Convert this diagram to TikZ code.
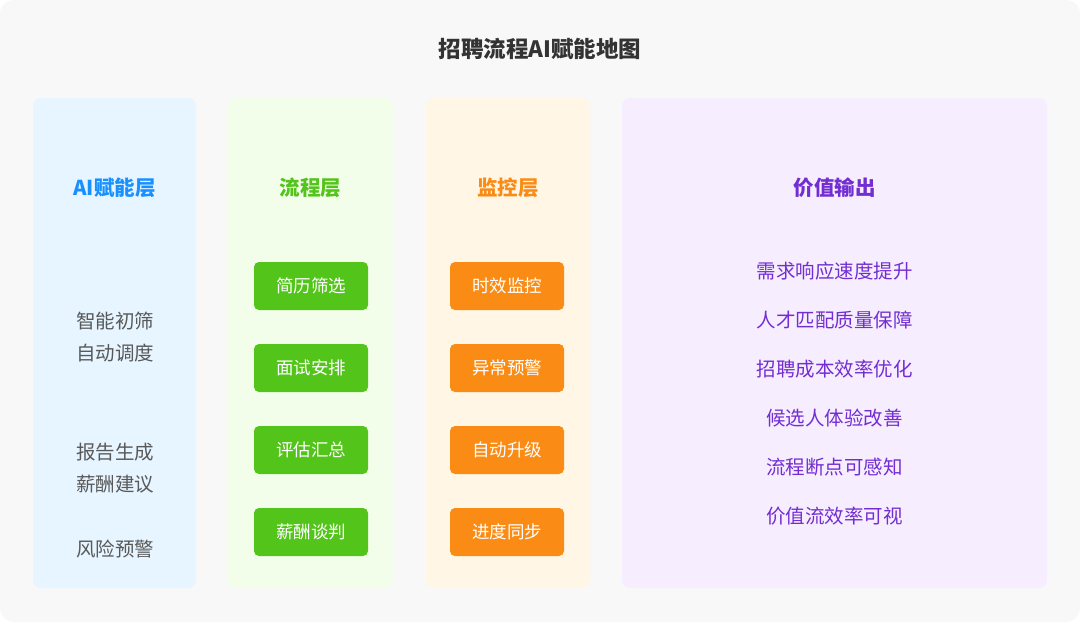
\documentclass[tikz,border=0pt]{standalone}
\usepackage{fontspec}
\setmainfont{Noto Sans CJK SC}
\definecolor{bgc}{HTML}{F8F8F9}
\definecolor{titlec}{HTML}{333333}
\definecolor{bluebg}{HTML}{E6F5FF}
\definecolor{greenbg}{HTML}{F3FEEA}
\definecolor{orangebg}{HTML}{FFF6E6}
\definecolor{purplebg}{HTML}{F6EDFF}
\definecolor{bluec}{HTML}{1890FF}
\definecolor{greenc}{HTML}{52C41A}
\definecolor{orangec}{HTML}{FA8C16}
\definecolor{purplec}{HTML}{722ED1}
\definecolor{grayc}{HTML}{595959}
\tikzset{
  col/.style={rounded corners=8pt, draw=none},
  head/.style={font=\fontsize{20.5}{24}\selectfont\bfseries},
  item/.style={font=\fontsize{19.5}{23}\selectfont, text=grayc},
  pbox/.style={fill=greenc, rounded corners=5pt, minimum width=114pt, minimum height=48pt, text=white, font=\fontsize{17.5}{21}\selectfont, inner sep=0pt},
  obox/.style={pbox, fill=orangec},
  vitem/.style={font=\fontsize{19.5}{23}\selectfont, text=purplec},
}
\begin{document}
\begin{tikzpicture}[x=1pt,y=-1pt]
\fill[white] (0,0) rectangle (1080,622);
\useasboundingbox (0,0) rectangle (1080,622);
\fill[bgc, rounded corners=14pt] (0,0) rectangle (1080,622);
\node[font=\fontsize{22.5}{26}\selectfont\bfseries, text=titlec] (title) at (540,49) {招聘流程AI赋能地图};
% columns
\fill[bluebg, col] (33,98) rectangle (196,588);
\fill[greenbg, col] (228,98) rectangle (393,588);
\fill[orangebg, col] (426,98) rectangle (590,588);
\fill[purplebg, col] (622,98) rectangle (1047,588);
% headers
\node[head, text=bluec] (h1) at (114.5,188) {AI赋能层};
\node[head, text=greenc] (h2) at (310.5,188) {流程层};
\node[head, text=orangec] (h3) at (508,188) {监控层};
\node[head, text=purplec] (h4) at (834.5,188) {价值输出};
% AI layer items
\node[item] (a1) at (115,321) {智能初筛};
\node[item] (a2) at (115,353) {自动调度};
\node[item] (a3) at (115,452) {报告生成};
\node[item] (a4) at (115,484) {薪酬建议};
\node[item] (a5) at (115,549) {风险预警};
% process boxes
\node[pbox] (p1) at (311,286) {简历筛选};
\node[pbox] (p2) at (311,368) {面试安排};
\node[pbox] (p3) at (311,450) {评估汇总};
\node[pbox] (p4) at (311,532) {薪酬谈判};
% monitor boxes
\node[obox] (m1) at (507,286) {时效监控};
\node[obox] (m2) at (507,368) {异常预警};
\node[obox] (m3) at (507,450) {自动升级};
\node[obox] (m4) at (507,532) {进度同步};
% value items
\node[vitem] (v1) at (834.5,271) {需求响应速度提升};
\node[vitem] (v2) at (834.5,320) {人才匹配质量保障};
\node[vitem] (v3) at (834.5,369) {招聘成本效率优化};
\node[vitem] (v4) at (834.5,418) {候选人体验改善};
\node[vitem] (v5) at (834.5,467) {流程断点可感知};
\node[vitem] (v6) at (834.5,516) {价值流效率可视};
\end{tikzpicture}
\end{document}
